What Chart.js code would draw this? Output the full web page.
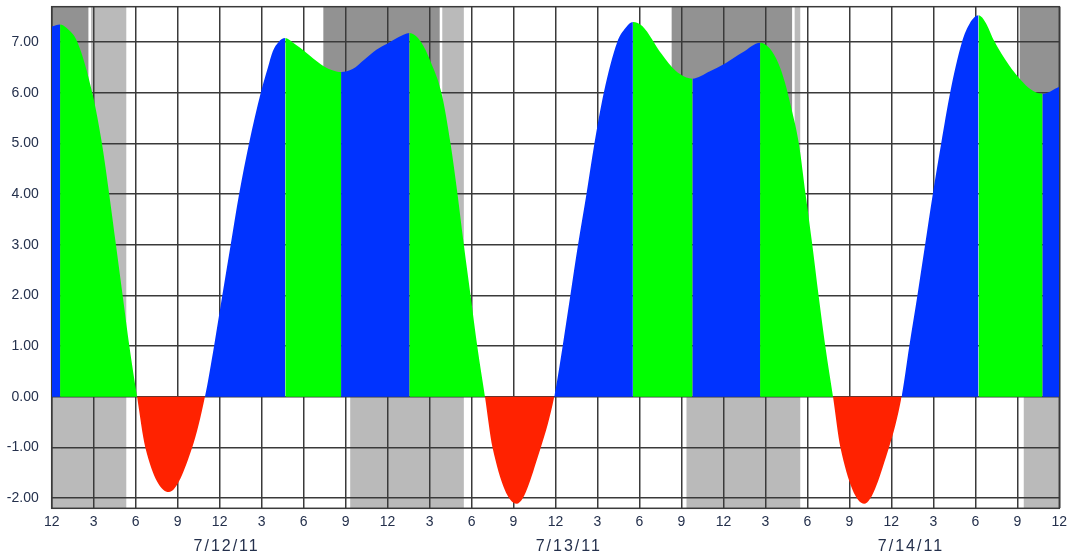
<!DOCTYPE html>
<html>
<head>
<meta charset="utf-8">
<title>Tide chart</title>
<script src="https://cdn.jsdelivr.net/npm/chart.js@4.4.0/dist/chart.umd.min.js"></script>
<style>
  html, body { margin: 0; padding: 0; background: #fff; }
  #wrap { width: 1069px; height: 558px; }
</style>
</head>
<body>
<div id="wrap"><canvas id="tideChart" width="1069" height="558"></canvas></div>
<script>
// hours counted from midnight 7/12/11, tide height in feet
const tideHours = [0, 0.6, 1.07, 1.84, 2.9, 3.59, 4.11, 4.59, 5.07, 5.55, 6.1, 6.69, 8.37, 10.04, 10.95,
  11.6, 12.19, 12.79, 13.39, 14.1, 14.94, 15.45, 15.8, 16.2, 16.69, 17.2, 17.8, 18.5, 19.25, 20.0, 20.68,
  21.5, 22.35, 23.2, 24.03, 24.8, 25.56, 26.4, 27.1, 27.85, 28.5, 29.0, 29.45, 29.93, 30.41, 30.96,
  31.5, 33.23, 34.95, 35.91, 36.51, 37.06, 37.61, 38.21, 38.78, 39.45, 40.41, 41.0, 41.53, 42.2, 43.6,
  44.6, 45.79, 47.0, 48.18, 49.38, 50.62, 51.3, 51.9, 52.4, 52.85, 53.39, 53.87, 54.35, 54.8, 55.28,
  55.83, 56.36, 58.06, 59.83, 60.73, 61.28, 61.86, 62.41, 62.96, 63.56, 64.2, 65.04, 65.6, 66.23,
  66.75, 67.3, 68.4, 69.2, 70.0, 70.8, 72];
const tideHeights = [7.31, 7.35, 7.28, 7.0, 6.0, 5.0, 4.0, 3.0, 2.0, 1.0, 0, -1.0, -1.88, -1.0, 0,
  1.0, 2.0, 3.0, 4.0, 5.0, 6.0, 6.5, 6.82, 7.0, 7.08, 7.0, 6.88, 6.72, 6.56, 6.45, 6.41,
  6.47, 6.66, 6.85, 6.98, 7.1, 7.18, 7.0, 6.6, 6.0, 5.0, 4.0, 3.0, 2.0, 1.0, 0,
  -1.0, -2.11, -1.0, 0, 1.0, 2.0, 3.0, 4.0, 5.0, 6.0, 7.0, 7.28, 7.4, 7.32, 6.76,
  6.43, 6.28, 6.42, 6.59, 6.8, 6.99, 6.88, 6.6, 6.2, 5.7, 5.0, 4.0, 3.0, 2.0, 1.0,
  0, -1.0, -2.11, -1.0, 0, 1.0, 2.0, 3.0, 4.0, 5.0, 6.0, 7.0, 7.37, 7.53,
  7.38, 7.05, 6.55, 6.27, 6.06, 5.98, 6.12];

const xTicks = [0, 3, 6, 9, 12, 15, 18, 21, 24, 27, 30, 33, 36, 39, 42, 45, 48, 51, 54, 57, 60, 63, 66, 69, 72];
const xTickLabels = ['12', '3', '6', '9', '12', '3', '6', '9', '12', '3', '6', '9', '12', '3', '6', '9',
  '12', '3', '6', '9', '12', '3', '6', '9', '12'];
const yTicks = [-2, -1, 0, 1, 2, 3, 4, 5, 6, 7];
const dateLabels = ['7/12/11', '7/13/11', '7/14/11'];
const dateLabelHours = [12.5, 36.95, 61.4];

// night (light gray, full height) and moon-up (dark gray, above zero)
const nightBands = [[0, 5.33], [21.33, 29.45], [45.36, 53.49], [69.46, 72]];
const moonBands = [[0, 2.63], [19.41, 27.73], [44.3, 52.91], [69.17, 72]];

const BLUE = '#0033ff';
const GREEN = '#00ff00';
const RED = '#ff2200';
const GRID = '#3a3a3a';
const TXT = '#24304c';
const FONT = "'Liberation Sans', Arial, sans-serif";

function segColor(c) {
  const a = c.p0.parsed.y, b = c.p1.parsed.y;
  if (a <= 0 && b <= 0) return RED;
  return b > a ? BLUE : GREEN;
}

const bandsPlugin = {
  id: 'bands',
  beforeDraw(chart) {
    const { ctx, chartArea: a, scales: { x, y } } = chart;
    const y0 = y.getPixelForValue(0);
    ctx.save();
    ctx.fillStyle = '#bababa';
    nightBands.forEach(([s, e]) => {
      const x1 = x.getPixelForValue(s), x2 = x.getPixelForValue(e);
      ctx.fillRect(x1, a.top, x2 - x1, a.bottom - a.top);
    });
    moonBands.forEach(([s, e]) => {
      const x1 = x.getPixelForValue(s), x2 = x.getPixelForValue(e);
      ctx.fillStyle = '#929292';
      ctx.fillRect(x1, a.top, x2 - x1, y0 - a.top);
      if (e < 72) {
        ctx.fillStyle = '#ffffff';
        ctx.fillRect(x2, a.top, 2.5, y0 - a.top);
      }
    });
    ctx.restore();
  },
  beforeDatasetsDraw(chart) {
    const { ctx, chartArea: a } = chart;
    ctx.save();
    ctx.strokeStyle = GRID;
    ctx.lineWidth = 1.5;
    ctx.strokeRect(a.left, a.top, a.right - a.left, a.bottom - a.top);
    ctx.restore();
  },
  afterDraw(chart) {
    const { ctx, scales: { x } } = chart;
    ctx.save();
    ctx.font = '16px ' + FONT;
    ctx.fillStyle = TXT;
    ctx.textAlign = 'center';
    ctx.textBaseline = 'middle';
    if ('letterSpacing' in ctx) ctx.letterSpacing = '2px';
    dateLabels.forEach((t, i) => {
      ctx.fillText(t, x.getPixelForValue(dateLabelHours[i]), 547);
    });
    ctx.restore();
  }
};

new Chart(document.getElementById('tideChart'), {
  type: 'line',
  data: {
    datasets: [{
      data: tideHours.map((h, i) => ({ x: h, y: tideHeights[i] })),
      borderWidth: 0,
      borderColor: 'rgba(0,0,0,0)',
      backgroundColor: BLUE,
      pointRadius: 0,
      fill: 'origin',
      cubicInterpolationMode: 'monotone',
      segment: { backgroundColor: segColor }
    }]
  },
  options: {
    responsive: false,
    maintainAspectRatio: false,
    devicePixelRatio: 1,
    animation: false,
    layout: { padding: { top: 6.7, right: 9.7, left: 0, bottom: 0 } },
    plugins: { legend: { display: false }, tooltip: { enabled: false } },
    scales: {
      x: {
        type: 'linear',
        min: 0,
        max: 72,
        afterBuildTicks: s => { s.ticks = xTicks.map(v => ({ value: v })); },
        afterFit: s => { s.height = 49.7; s.paddingLeft = 0; s.paddingRight = 0; },
        grid: { color: GRID, lineWidth: 1.5, drawTicks: false },
        border: { display: false },
        ticks: {
          autoSkip: false, maxRotation: 0, padding: 5, color: TXT,
          font: { family: FONT, size: 14 },
          callback: (v, i) => xTickLabels[i]
        }
      },
      y: {
        type: 'linear',
        min: -2.2,
        max: 7.7,
        afterBuildTicks: s => { s.ticks = yTicks.map(v => ({ value: v })); },
        afterFit: s => { s.width = 51.7; s.paddingTop = 0; s.paddingBottom = 0; },
        grid: { color: GRID, lineWidth: 1.5, drawTicks: false },
        border: { display: false },
        ticks: {
          padding: 13, color: TXT,
          font: { family: FONT, size: 14 },
          callback: v => v.toFixed(2)
        }
      }
    }
  },
  plugins: [bandsPlugin]
});
</script>
</body>
</html>
